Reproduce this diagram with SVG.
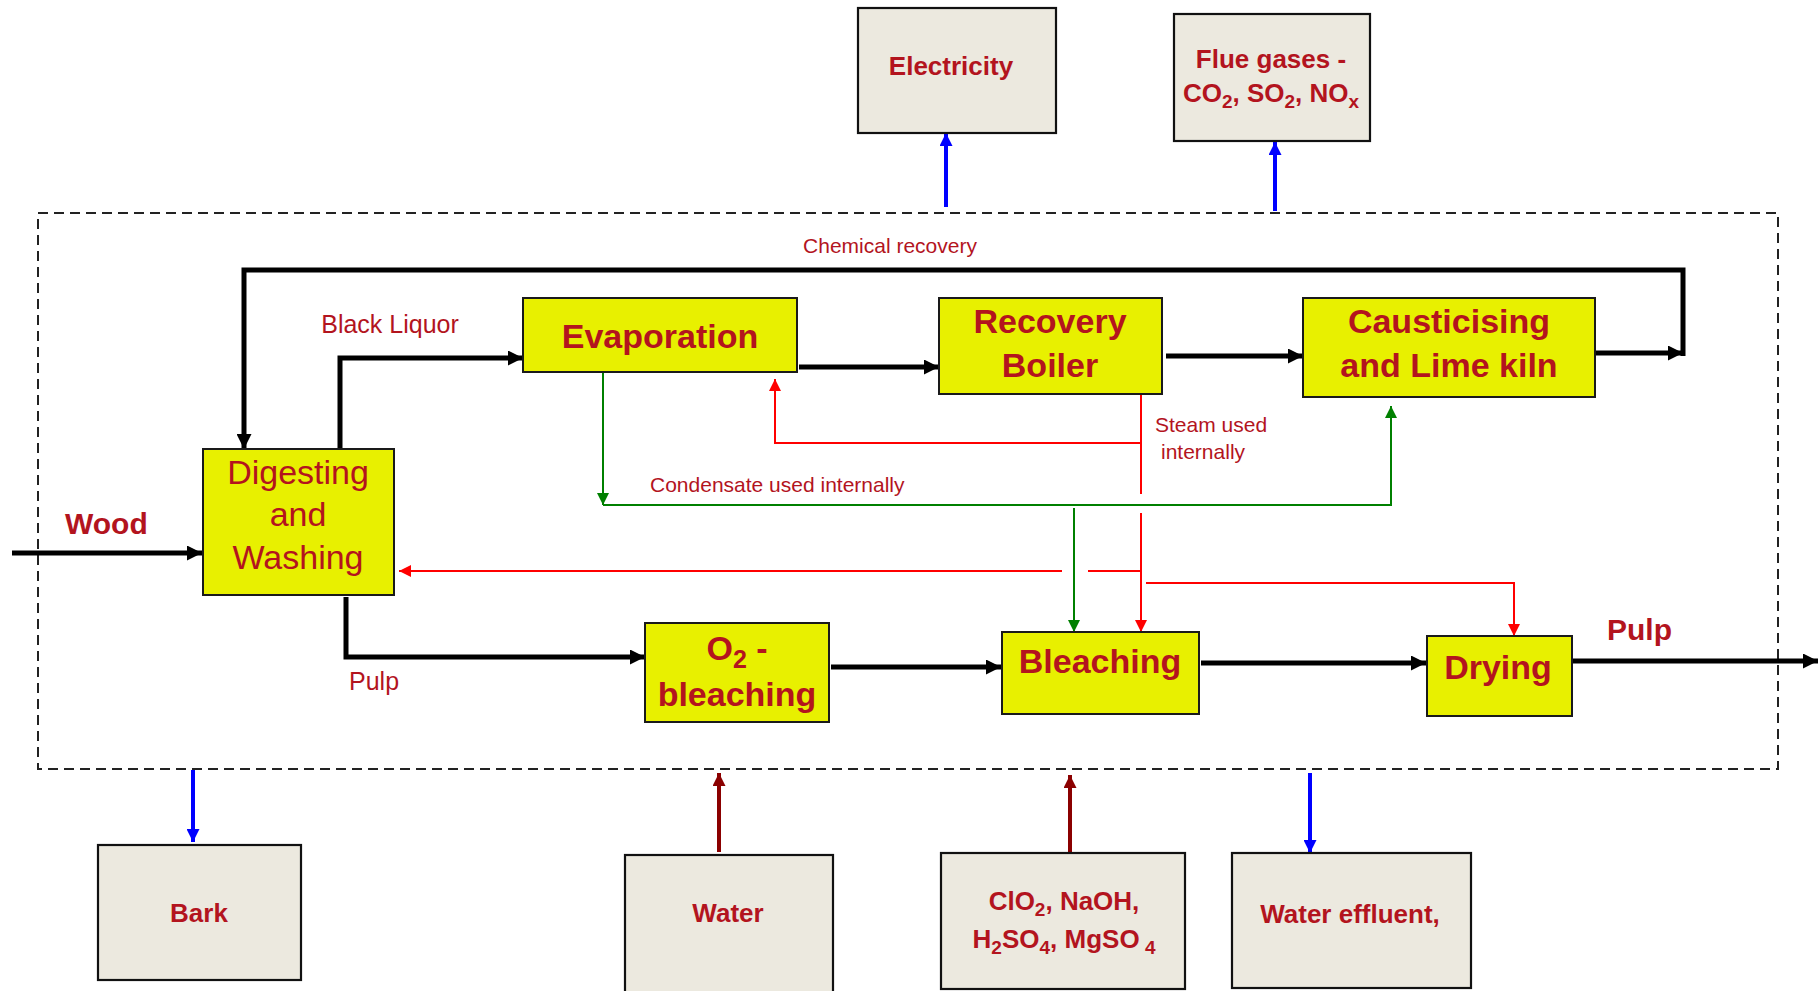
<svg xmlns="http://www.w3.org/2000/svg" width="1818" height="991" viewBox="0 0 1818 991">
<style>
text{font-family:"Liberation Sans",Arial,sans-serif;fill:#B3141E}
.nb{font-weight:bold;font-size:34px;text-anchor:middle}
.nr{font-size:34px;text-anchor:middle}
.ob{font-weight:bold;font-size:26px;text-anchor:middle}
.lab{font-size:25px}
.sm{font-size:21px}
.big{font-weight:bold;font-size:30px}
.y{fill:#E8F000;stroke:#1a1a1a;stroke-width:2}
.g{fill:#ECE9DF;stroke:#111;stroke-width:2.2}
.k{fill:none;stroke:#000;stroke-width:5}
.b{fill:none;stroke:#0000FF;stroke-width:4}
.dr{fill:none;stroke:#8B0000;stroke-width:4}
.r{fill:none;stroke:#FF0000;stroke-width:2}
.gr{fill:none;stroke:#008000;stroke-width:2}
</style>
<defs>
<marker id="ak" viewBox="0 0 10 10" refX="10" refY="5" markerWidth="15" markerHeight="15" markerUnits="userSpaceOnUse" orient="auto"><path d="M0,0 L10,5 L0,10 z" fill="#000"/></marker>
<marker id="ab" viewBox="0 0 10 10" refX="10" refY="5" markerWidth="13" markerHeight="13" markerUnits="userSpaceOnUse" orient="auto"><path d="M0,0 L10,5 L0,10 z" fill="#0000FF"/></marker>
<marker id="ad" viewBox="0 0 10 10" refX="10" refY="5" markerWidth="13" markerHeight="13" markerUnits="userSpaceOnUse" orient="auto"><path d="M0,0 L10,5 L0,10 z" fill="#8B0000"/></marker>
<marker id="ar" viewBox="0 0 10 10" refX="10" refY="5" markerWidth="13" markerHeight="12" markerUnits="userSpaceOnUse" orient="auto"><path d="M0,0 L10,5 L0,10 z" fill="#FF0000"/></marker>
<marker id="ag" viewBox="0 0 10 10" refX="10" refY="5" markerWidth="13" markerHeight="12" markerUnits="userSpaceOnUse" orient="auto"><path d="M0,0 L10,5 L0,10 z" fill="#008000"/></marker>
</defs>
<rect width="1818" height="991" fill="#fff"/>
<rect id="boundary" x="38" y="213" width="1740" height="556" fill="none" stroke="#222" stroke-width="2" stroke-dasharray="10,6"/>

<g id="connectors">
<path class="k" d="M12,553 H202" marker-end="url(#ak)"/>
<path class="k" d="M1596,353 H1683" marker-end="url(#ak)"/>
<path class="k" d="M1683,356 V270 H244 V449" marker-end="url(#ak)"/>
<path class="k" d="M340,449 V358 H523" marker-end="url(#ak)"/>
<path class="k" d="M799,367 H939" marker-end="url(#ak)"/>
<path class="k" d="M1166,356 H1303" marker-end="url(#ak)"/>
<path class="k" d="M346,597 V657 H645" marker-end="url(#ak)"/>
<path class="k" d="M831,667 H1001" marker-end="url(#ak)"/>
<path class="k" d="M1201,663 H1426" marker-end="url(#ak)"/>
<path class="k" d="M1573,661 H1818" marker-end="url(#ak)"/>
<path class="gr" d="M603,372 V505" marker-end="url(#ag)"/>
<path class="gr" d="M603,505 H1391 V406" marker-end="url(#ag)"/>
<path class="gr" d="M1074,508 V632" marker-end="url(#ag)"/>
<path class="r" d="M1141,395 V494"/>
<path class="r" d="M1141,443 H775 V379" marker-end="url(#ar)"/>
<path class="r" d="M1141,513 V632" stroke-width="2.5" marker-end="url(#ar)"/>
<path class="r" d="M1062,571 H399" marker-end="url(#ar)"/>
<path class="r" d="M1088,571 H1141"/>
<path class="r" d="M1146,583 H1514 V636" stroke-width="2.5" marker-end="url(#ar)"/>
<path class="b" d="M946,207 V133" marker-end="url(#ab)"/>
<path class="b" d="M1275,211 V142" marker-end="url(#ab)"/>
<path class="b" d="M193,770 V842" marker-end="url(#ab)"/>
<path class="b" d="M1310,773 V853" marker-end="url(#ab)"/>
<path class="dr" d="M719,852 V773" marker-end="url(#ad)"/>
<path class="dr" d="M1070,853 V775" marker-end="url(#ad)"/>
</g>

<g id="labels">
<text class="sm" x="890" y="253" text-anchor="middle">Chemical recovery</text>
<text class="lab" x="390" y="333" text-anchor="middle">Black Liquor</text>
<text class="sm" x="650" y="492">Condensate used internally</text>
<text class="sm" x="1155" y="432">Steam used</text>
<text class="sm" x="1161" y="459">internally</text>
<text class="lab" x="349" y="690">Pulp</text>
<text class="big" x="65" y="534">Wood</text>
<text class="big" x="1607" y="640">Pulp</text>
</g>

<g id="electricity"><rect class="g" x="858" y="8" width="198" height="125"/><text class="ob" x="951" y="75">Electricity</text></g>
<g id="flue-gases"><rect class="g" x="1174" y="14" width="196" height="127"/>
<text class="ob" x="1271" y="68">Flue gases -</text>
<text class="ob" x="1271" y="102">CO<tspan font-size="19" dy="6">2</tspan><tspan dy="-6">, SO</tspan><tspan font-size="19" dy="6">2</tspan><tspan dy="-6">, NO</tspan><tspan font-size="19" dy="6">x</tspan></text></g>

<g id="digesting"><rect class="y" x="203" y="449" width="191" height="146"/>
<text class="nr" x="298" y="484">Digesting</text><text class="nr" x="298" y="526">and</text><text class="nr" x="298" y="569">Washing</text></g>
<g id="evaporation"><rect class="y" x="523" y="298" width="274" height="74"/><text class="nb" x="660" y="348">Evaporation</text></g>
<g id="recovery-boiler"><rect class="y" x="939" y="298" width="223" height="96"/><text class="nb" x="1050" y="333">Recovery</text><text class="nb" x="1050" y="377">Boiler</text></g>
<g id="causticising"><rect class="y" x="1303" y="298" width="292" height="99"/><text class="nb" x="1449" y="333">Causticising</text><text class="nb" x="1449" y="377">and Lime kiln</text></g>
<g id="o2-bleaching"><rect class="y" x="645" y="623" width="184" height="99"/><text class="nb" x="737" y="660">O<tspan font-size="25" dy="8">2</tspan><tspan dy="-8"> -</tspan></text><text class="nb" x="737" y="706">bleaching</text></g>
<g id="bleaching"><rect class="y" x="1002" y="632" width="197" height="82"/><text class="nb" x="1100" y="673">Bleaching</text></g>
<g id="drying"><rect class="y" x="1427" y="636" width="145" height="80"/><text class="nb" x="1498" y="679">Drying</text></g>

<g id="bark"><rect class="g" x="98" y="845" width="203" height="135"/><text class="ob" x="199" y="922">Bark</text></g>
<g id="water"><rect class="g" x="625" y="855" width="208" height="145"/><text class="ob" x="728" y="922">Water</text></g>
<g id="chemicals"><rect class="g" x="941" y="853" width="244" height="136"/>
<text class="ob" x="1064" y="910">ClO<tspan font-size="19" dy="6">2</tspan><tspan dy="-6">, NaOH,</tspan></text>
<text class="ob" x="1064" y="948">H<tspan font-size="19" dy="6">2</tspan><tspan dy="-6">SO</tspan><tspan font-size="19" dy="6">4</tspan><tspan dy="-6">, MgSO</tspan><tspan font-size="19" dy="6"> 4</tspan></text></g>
<g id="water-effluent"><rect class="g" x="1232" y="853" width="239" height="135"/><text class="ob" x="1350" y="923">Water effluent,</text></g>
</svg>
